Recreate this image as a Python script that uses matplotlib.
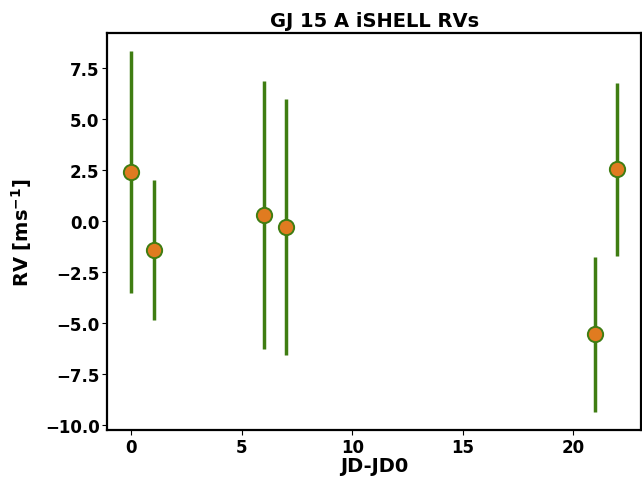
import matplotlib
matplotlib.use("Agg")
import matplotlib.pyplot as plt

jd = [0, 1, 6, 7, 21, 22]
rv = [2.37, -1.43, 0.27, -0.33, -5.58, 2.51]
rv_err = [5.93, 3.44, 6.55, 6.28, 3.80, 4.23]

plt.rcParams['font.weight'] = 'bold'
plt.rcParams['axes.labelweight'] = 'bold'
plt.rcParams['axes.titleweight'] = 'bold'

fig = plt.figure(figsize=(6.42, 4.81), dpi=100)
ax = fig.add_axes([0.167, 0.104, 0.832, 0.825])
ax.errorbar(jd, rv, yerr=rv_err, fmt='o', color='#3f7d12', ecolor='#3f7d12',
            elinewidth=2.5, markersize=11, markerfacecolor='#e07b20',
            markeredgecolor='#3f7d12', markeredgewidth=1.4, capsize=0)
ax.set_title('GJ 15 A iSHELL RVs', fontsize=14, fontweight='bold', pad=5)
ax.set_xlabel('JD-JD0', fontsize=14, fontweight='bold', labelpad=0)
ax.set_ylabel('RV [ms$^{\\mathbf{-1}}$]', fontsize=14, fontweight='bold', labelpad=8)
ax.tick_params(labelsize=12, pad=2)
for s in ax.spines.values():
    s.set_linewidth(1.6)
fig.savefig('out.png', dpi=100)
